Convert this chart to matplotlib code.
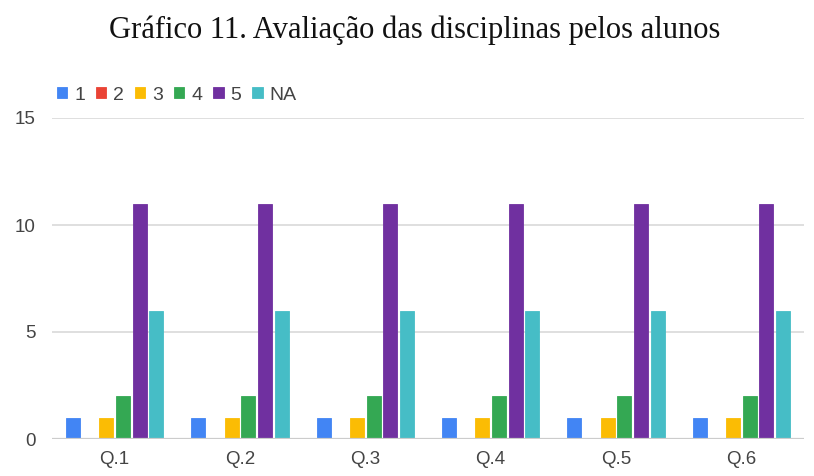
import matplotlib
matplotlib.use("Agg")
import matplotlib.pyplot as plt
import numpy as np

categories = ["Q.1", "Q.2", "Q.3", "Q.4", "Q.5", "Q.6"]
series_names = ["1", "2", "3", "4", "5", "NA"]
s1 = [1, 1, 1, 1, 1, 1]
s2 = [0, 0, 0, 0, 0, 0]
s3 = [1, 1, 1, 1, 1, 1]
s4 = [2, 2, 2, 2, 2, 2]
s5 = [11, 11, 11, 11, 11, 11]
sNA = [6, 6, 6, 6, 6, 6]
yticks = [0, 5, 10, 15]
title = "Gráfico 11. Avaliação das disciplinas pelos alunos"

series = [s1, s2, s3, s4, s5, sNA]
colors = ["#4285F4", "#EA4335", "#FBBC04", "#34A853", "#7030A0", "#46BDC6"]

fig = plt.figure(figsize=(8.14, 4.76), dpi=100)
ax = fig.add_axes([52/814, 1-439/476, (804-52)/814, (439-118)/476])

x = np.arange(len(categories))
pitch = 0.1333
width = 0.112
handles = []
for i, (vals, c, name) in enumerate(zip(series, colors, series_names)):
    off = (i - 2.5) * pitch
    b = ax.bar(x + off, vals, width=width, color=c, edgecolor=c, linewidth=0.6,
               label=name, zorder=3)
    handles.append(b)

ax.set_xlim(-0.5, len(categories) - 0.5)
ax.set_ylim(0, 15)
ax.set_yticks(yticks)
ax.set_xticks(x)
ax.set_xticklabels(categories)
for s in ax.spines.values():
    s.set_visible(False)
ax.tick_params(axis="both", length=0, labelsize=13.5, labelcolor="#444444",
               labelfontfamily="Liberation Sans")
ax.tick_params(axis="y", pad=12)
ax.tick_params(axis="x", pad=9)
ax.yaxis.grid(True, color="#d9d9d9", linewidth=1.2, zorder=0)
ax.axhline(0, color="#cccccc", linewidth=1.6, zorder=4)

fig.text(415/814, 1-38/476, title, ha="center", va="baseline", fontsize=22,
         family="Liberation Serif", color="#111111")

leg = fig.legend(handles=handles, labels=series_names, loc="center left",
                 bbox_to_anchor=(57/814, 1-95/476), ncol=6, frameon=False,
                 handlelength=0.52, handleheight=0.52, handletextpad=0.36,
                 columnspacing=0.57, borderpad=0, borderaxespad=0,
                 prop={"family": "Liberation Sans", "size": 14})
for t in leg.get_texts():
    t.set_color("#444444")

fig.savefig("out.png", dpi=100)
